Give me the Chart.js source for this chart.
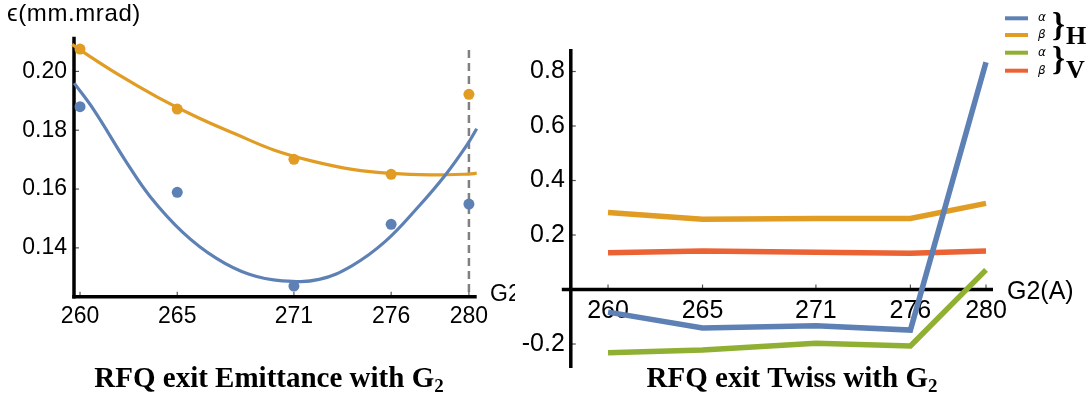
<!DOCTYPE html>
<html><head><meta charset="utf-8">
<script src="https://cdn.jsdelivr.net/npm/chart.js@4.4.1/dist/chart.umd.min.js"></script>
<style>
html,body{margin:0;padding:0;background:#fff;width:1088px;height:396px;overflow:hidden;}
#wrapL{position:absolute;left:0;top:0;width:515px;height:396px;}
#wrapR{position:absolute;left:515px;top:0;width:573px;height:396px;}
canvas{display:block;}
</style></head><body>
<div id="wrapL"><canvas id="cL" width="515" height="396"></canvas></div>
<div id="wrapR"><canvas id="cR" width="573" height="396"></canvas></div>
<script>
// ---------- data ----------
const g2Values = [260, 265, 271, 276, 280];
const emitH = [0.1880, 0.1589, 0.1270, 0.1480, 0.1549];   // blue points
const emitV = [0.2076, 0.1872, 0.1701, 0.1650, 0.1922];   // orange points
const fitHG2 = [259.7, 260.7, 262.4, 263.6, 265.3, 267.0, 268.7, 270.4, 272.3, 274.0, 275.7, 277.4, 278.8, 279.9, 280.4];
const fitH   = [0.1960, 0.1870, 0.1690, 0.1575, 0.1452, 0.1365, 0.1310, 0.1288, 0.1293, 0.1340, 0.1422, 0.1540, 0.1649, 0.1750, 0.1805];
const fitVG2 = [259.6, 260.0, 262.0, 264.0, 266.0, 268.0, 270.0, 272.0, 274.0, 276.0, 278.0, 280.0, 280.4];
const fitV   = [0.2092, 0.2073, 0.1988, 0.1912, 0.1845, 0.1787, 0.1732, 0.1694, 0.1667, 0.1653, 0.1648, 0.1651, 0.1654];
const leftXTicks = [260, 265, 271, 276, 280];
const leftYTicks = [0.14, 0.16, 0.18, 0.20];

const alphaH = [-0.083, -0.141, -0.133, -0.149, 0.834];
const betaH  = [0.283, 0.258, 0.261, 0.261, 0.316];
const alphaV = [-0.232, -0.222, -0.197, -0.207, 0.072];
const betaV  = [0.135, 0.141, 0.137, 0.133, 0.141];
const rightXTicks = [260, 265, 271, 276, 280];
const rightYTicks = [-0.2, 0.2, 0.4, 0.6, 0.8];

const BLUE = '#5E81B5', ORANGE = '#E19C24', GREEN = '#8FB032', RED = '#EB6235';
const SANS = "'Liberation Sans', Arial, sans-serif";
const SERIF = "'Liberation Serif', 'Times New Roman', serif";

function pts(xs, ys){ return xs.map((x,i)=>({x:x, y:ys[i]})); }

function drawCaption(ctx, text, cx, baseline){
  ctx.save();
  ctx.fillStyle = '#000';
  ctx.textBaseline = 'alphabetic';
  ctx.textAlign = 'left';
  const f1 = "bold 29px " + SERIF, f2 = "bold 19px " + SERIF;
  ctx.font = f1; const w1 = ctx.measureText(text).width;
  ctx.font = f2; const w2 = ctx.measureText('2').width;
  const x0 = cx - (w1 + w2)/2;
  ctx.font = f1; ctx.fillText(text, x0, baseline);
  ctx.font = f2; ctx.fillText('2', x0 + w1, baseline + 5);
  ctx.restore();
}

// ---------- left chart ----------
const leftPlugin = {
  id: 'leftDeco',
  beforeDatasetsDraw(chart){
    const ctx = chart.ctx, a = chart.chartArea, xs = chart.scales.x, ys = chart.scales.y;
    ctx.save();
    ctx.strokeStyle = '#808080'; ctx.lineWidth = 2.5; ctx.setLineDash([8,5]);
    const xd = xs.getPixelForValue(280);
    ctx.beginPath(); ctx.moveTo(xd, 50); ctx.lineTo(xd, a.bottom); ctx.stroke();
    ctx.setLineDash([]);
    ctx.strokeStyle = '#555'; ctx.lineWidth = 1.2;
    leftYTicks.forEach(v=>{ const y = ys.getPixelForValue(v); ctx.beginPath(); ctx.moveTo(a.left, y); ctx.lineTo(a.left+5, y); ctx.stroke(); });
    leftXTicks.forEach(v=>{ const x = xs.getPixelForValue(v); ctx.beginPath(); ctx.moveTo(x, a.bottom); ctx.lineTo(x, a.bottom-5); ctx.stroke(); });
    ctx.strokeStyle = '#000'; ctx.lineWidth = 3.5;
    ctx.beginPath(); ctx.moveTo(a.left, a.top); ctx.lineTo(a.left, a.bottom+1.75); ctx.stroke();
    ctx.beginPath(); ctx.moveTo(a.left-1.75, a.bottom); ctx.lineTo(a.right, a.bottom); ctx.stroke();
    ctx.restore();
  },
  afterDraw(chart){
    const ctx = chart.ctx, a = chart.chartArea;
    ctx.save();
    ctx.fillStyle = '#000';
    ctx.font = "24px " + SANS; ctx.textBaseline = 'alphabetic'; ctx.textAlign = 'left';
    try { ctx.letterSpacing = '0.6px'; } catch(e) {}
    ctx.fillText('\u03F5(mm.mrad)', 7, 21);
    try { ctx.letterSpacing = '0px'; } catch(e) {}
    ctx.font = "23px " + SANS; ctx.textBaseline = 'middle';
    ctx.fillText('G2', 490, a.bottom - 2);
    ctx.restore();
    drawCaption(ctx, 'RFQ exit Emittance with G', 269, 387);
  }
};

new Chart(document.getElementById('cL'), {
  type: 'scatter',
  data: {
    datasets: [
      {label:'H fit', data: pts(fitHG2, fitH), showLine:true, borderColor:BLUE, borderWidth:3.2, pointRadius:0, tension:0.4, clip:false},
      {label:'V fit', data: pts(fitVG2, fitV), showLine:true, borderColor:ORANGE, borderWidth:3.2, pointRadius:0, tension:0.4, clip:false},
      {label:'H', data: pts(g2Values, emitH), backgroundColor:BLUE, borderWidth:0, pointRadius:5.5, clip:false},
      {label:'V', data: pts(g2Values, emitV), backgroundColor:ORANGE, borderWidth:0, pointRadius:5.5, clip:false}
    ]
  },
  options: {
    responsive:false, animation:false, events:[],
    layout: {padding: {left:0, right:38.3, top:36.7, bottom:0}},
    plugins: {legend:{display:false}, tooltip:{enabled:false}, title:{display:false}},
    scales: {
      x: {type:'linear', position:'bottom', min:259.69, max:280.40,
        afterFit: s=>{ s.height = 396 - 296.7; },
        afterBuildTicks: s=>{ s.ticks = leftXTicks.map(v=>({value:v})); },
        grid:{display:false, drawTicks:false}, border:{display:false},
        ticks:{padding:6, autoSkip:false, maxRotation:0, color:'#000', font:{family:SANS, size:23}, callback:v=>String(v)}
      },
      y: {type:'linear', position:'left', min:0.1234, max:0.2118,
        afterFit: s=>{ s.width = 74; },
        afterBuildTicks: s=>{ s.ticks = leftYTicks.map(v=>({value:v})); },
        grid:{display:false, drawTicks:false}, border:{display:false},
        ticks:{padding:7, autoSkip:false, color:'#000', font:{family:SANS, size:23}, callback:v=>Number(v).toFixed(2)}
      }
    }
  },
  plugins:[leftPlugin]
});

// ---------- right chart ----------
const rightPlugin = {
  id: 'rightDeco',
  beforeDatasetsDraw(chart){
    const ctx = chart.ctx, a = chart.chartArea, xs = chart.scales.x, ys = chart.scales.y;
    const y0 = ys.getPixelForValue(0);
    ctx.save();
    ctx.strokeStyle = '#555'; ctx.lineWidth = 1.2;
    rightXTicks.forEach(v=>{ const x = xs.getPixelForValue(v); ctx.beginPath(); ctx.moveTo(x, y0); ctx.lineTo(x, y0-5); ctx.stroke(); });
    rightYTicks.forEach(v=>{ const y = ys.getPixelForValue(v); ctx.beginPath(); ctx.moveTo(a.left, y); ctx.lineTo(a.left+5, y); ctx.stroke(); });
    ctx.strokeStyle = '#000'; ctx.lineWidth = 3.5;
    ctx.beginPath(); ctx.moveTo(a.left, a.top); ctx.lineTo(a.left, a.bottom); ctx.stroke();
    ctx.beginPath(); ctx.moveTo(a.left-9, y0); ctx.lineTo(a.right, y0); ctx.stroke();
    ctx.restore();
  },
  afterDraw(chart){
    const ctx = chart.ctx, a = chart.chartArea, ys = chart.scales.y;
    const y0 = ys.getPixelForValue(0);
    ctx.save();
    ctx.fillStyle = '#000';
    ctx.font = "25px " + SANS; ctx.textBaseline = 'middle'; ctx.textAlign = 'left';
    ctx.fillText('G2(A)', a.right + 14, y0 + 3);
    // legend
    const ly = [18.3, 35, 52.7, 70.7];
    chart.data.datasets.forEach((ds, i)=>{
      ctx.strokeStyle = ds.borderColor; ctx.lineWidth = 4;
      ctx.beginPath(); ctx.moveTo(490, ly[i]); ctx.lineTo(513, ly[i]); ctx.stroke();
      ctx.fillStyle = '#000';
      ctx.font = "italic 12px 'DejaVu Sans', sans-serif"; ctx.textBaseline = 'middle';
      ctx.fillText(ds.label, 523, ly[i]);
    });
    ctx.font = "bold 33px " + SERIF; ctx.textBaseline = 'alphabetic';
    ctx.fillText('}', 537, 36);
    ctx.fillText('}', 537, 70);
    ctx.font = "bold 26px " + SERIF; ctx.textBaseline = 'alphabetic';
    ctx.fillText('H', 551, 44);
    ctx.fillText('V', 551, 78);
    ctx.restore();
    drawCaption(ctx, 'RFQ exit Twiss with G', 277, 387);
  }
};

new Chart(document.getElementById('cR'), {
  type: 'scatter',
  data: {
    datasets: [
      {label:'\u03B1', data: pts(g2Values, alphaH), showLine:true, borderColor:BLUE, borderWidth:5.5, pointRadius:0, clip:false},
      {label:'\u03B2', data: pts(g2Values, betaH), showLine:true, borderColor:ORANGE, borderWidth:5.5, pointRadius:0, clip:false},
      {label:'\u03B1', data: pts(g2Values, alphaV), showLine:true, borderColor:GREEN, borderWidth:5.5, pointRadius:0, clip:false},
      {label:'\u03B2', data: pts(g2Values, betaV), showLine:true, borderColor:RED, borderWidth:5.5, pointRadius:0, clip:false}
    ]
  },
  options: {
    responsive:false, animation:false, events:[],
    layout: {padding: {left:0, right:95, top:49, bottom:28}},
    plugins: {legend:{display:false}, tooltip:{enabled:false}, title:{display:false}},
    scales: {
      x: {type:'linear', position:{y:0}, min:258.03, max:280.37,
        afterFit: s=>{ s.height = 0; },
        afterBuildTicks: s=>{ s.ticks = rightXTicks.map(v=>({value:v})); },
        grid:{display:false, drawTicks:false}, border:{display:false},
        ticks:{padding:7, autoSkip:false, maxRotation:0, color:'#000', font:{family:SANS, size:25}, callback:v=>String(v)}
      },
      y: {type:'linear', position:'left', min:-0.288, max:0.8826,
        afterFit: s=>{ s.width = 55.8; },
        afterBuildTicks: s=>{ s.ticks = rightYTicks.map(v=>({value:v})); },
        grid:{display:false, drawTicks:false}, border:{display:false},
        ticks:{padding:6, autoSkip:false, color:'#000', font:{family:SANS, size:25}, callback:v=>Number(v).toFixed(1)}
      }
    }
  },
  plugins:[rightPlugin]
});
</script>
</body></html>
